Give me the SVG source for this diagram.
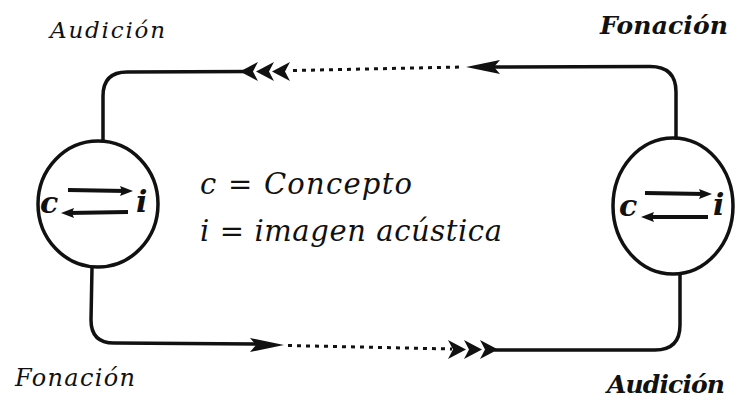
<svg xmlns="http://www.w3.org/2000/svg" width="739" height="417" viewBox="0 0 739 417">
<style>
.line{fill:none;stroke:#111;stroke-width:3.5;stroke-linecap:round}
.dot{fill:none;stroke:#111;stroke-width:3;stroke-dasharray:4 5}
.head{fill:#111}
.ring{fill:none;stroke:#111;stroke-width:3.5}
.arr{fill:none;stroke:#111;stroke-width:4}
</style>
<rect width="739" height="417" fill="#fff"/>
<g id="connectors">
  <path class="line" d="M103,140 L103,96 Q103,72 127,72 L250,71.5"/>
  <path class="head" d="M240,71.5 L258,62 L253,71.5 L258,81 Z M256,71.5 L274,62 L269,71.5 L274,81 Z M272,71.5 L290,62 L285,71.5 L290,81 Z"/>
  <path class="dot" d="M293,70.5 L462,67"/>
  <path class="head" d="M466,67 L500,60 L494,67 L500,74 Z"/>
  <path class="line" d="M494,67 L650,66.5 Q676,66.5 676,92 L676,138"/>

  <path class="line" d="M92,268 L91,320 Q91,343 114,343 L258,344"/>
  <path class="head" d="M284,345 L250,338 L256,345 L250,352 Z"/>
  <path class="dot" d="M288,345.5 L452,349"/>
  <path class="head" d="M466,349.5 L448,340 L453,349.5 L448,359 Z M482,349.5 L464,340 L469,349.5 L464,359 Z M498,349.5 L480,340 L485,349.5 L480,359 Z"/>
  <path class="line" d="M495,350 L655,350 Q680,350 680,325 L680,274"/>
</g>
<g font-family="DejaVu Serif, serif" font-style="italic" fill="#111">
<g id="left-node">
  <ellipse class="ring" cx="98" cy="204" rx="60" ry="63"/>
  <text x="40" y="213" font-size="30" font-weight="bold">c</text>
  <path class="arr" d="M68,190 L126,191"/>
  <path class="head" d="M133,191 L120,186 L122,191 L120,196 Z"/>
  <path class="arr" d="M68,213 L128,212"/>
  <path class="head" d="M61,213 L74,208 L72,213 L74,218 Z"/>
  <text x="136" y="212" font-size="30" font-weight="bold">i</text>
</g>
<g id="right-node">
  <ellipse class="ring" cx="673" cy="206" rx="60" ry="68"/>
  <text x="619" y="216" font-size="30" font-weight="bold">c</text>
  <path class="arr" d="M645,193 L705,194"/>
  <path class="head" d="M712,194 L699,189 L701,194 L699,199 Z"/>
  <path class="arr" d="M648,217 L708,217"/>
  <path class="head" d="M641,217 L654,212 L652,217 L654,222 Z"/>
  <text x="713" y="215" font-size="30" font-weight="bold">i</text>
</g>
<g id="legend">
  <text x="200" y="194" font-size="29" textLength="212" lengthAdjust="spacing">c  =  Concepto</text>
  <text x="200" y="241" font-size="29" textLength="302" lengthAdjust="spacing">i  =  imagen acústica</text>
</g>
<g id="labels">
  <text x="50" y="38" font-size="23" textLength="115" lengthAdjust="spacing">Audición</text>
  <text x="600" y="34" font-size="25" font-weight="bold" textLength="128" lengthAdjust="spacing">Fonación</text>
  <text x="15" y="386" font-size="24" textLength="120" lengthAdjust="spacing">Fonación</text>
  <text x="607" y="393" font-size="25" font-weight="bold" textLength="118" lengthAdjust="spacing">Audición</text>
</g>
</g>
</svg>
